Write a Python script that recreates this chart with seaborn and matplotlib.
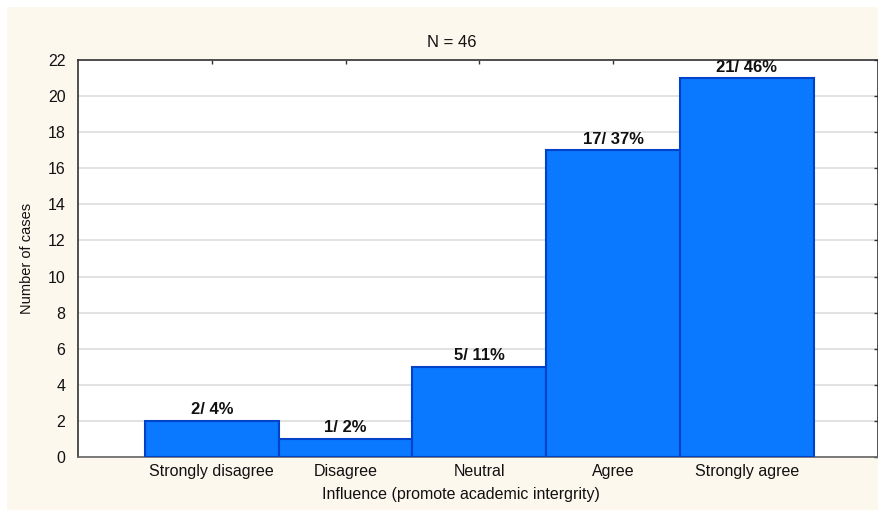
import pandas as pd
import matplotlib
matplotlib.use('Agg')
import matplotlib.pyplot as plt
import seaborn as sns
from matplotlib.patches import Rectangle

categories = ['Strongly disagree', 'Disagree', 'Neutral', 'Agree', 'Strongly agree']
counts = [2, 1, 5, 17, 21]
percents = [4, 2, 11, 37, 46]
total_n = 46

df = pd.DataFrame({'answer': categories, 'cases': counts})

sns.set_style('white')
plt.rcParams['font.family'] = ['Liberation Sans', 'DejaVu Sans']

fig = plt.figure(figsize=(8.79, 5.11), dpi=100)
fig.patch.set_facecolor('white')
# cream panel with a thin white margin, as in the original export
fig.patches.append(Rectangle((7 / 879, 1 / 511), 1 - 7 / 879, 1 - 8 / 511,
                             transform=fig.transFigure, facecolor='#FDF8EE',
                             edgecolor='none', zorder=-10))

ax = fig.add_axes([78 / 879, 1 - 457 / 511, 1 - 78 / 879 - 0.5 / 879, (457 - 60) / 511])
ax.set_zorder(2)
ax.set_facecolor('white')

sns.barplot(data=df, x='answer', y='cases', order=categories, width=1.0,
            color='#0A78FF', edgecolor='#0042C8', linewidth=1.5,
            saturation=1, ax=ax, zorder=3)

for i, (c, p) in enumerate(zip(counts, percents)):
    ax.annotate(f'{c}/ {p}%', (i, c), xytext=(0, 2.5), textcoords='offset points',
                ha='center', va='bottom', fontsize=12, fontweight='bold',
                color='#111111', zorder=4)

ax.set_xlim(-1, 4.985)
ax.set_ylim(0, 22)
ax.set_yticks(range(0, 23, 2))
ax.yaxis.grid(True, color='#E2E2E2', linewidth=1.4, zorder=0)
ax.xaxis.grid(False)

for s in ax.spines.values():
    s.set_visible(True)
    s.set_color('#333333')
    s.set_linewidth(1.2)
ax.spines['bottom'].set_color('#666666')

ax.tick_params(axis='both', direction='in', length=3, width=1, color='#333333',
               labelsize=11.5, labelcolor='#111111', top=True, right=True)
ax.tick_params(axis='x', pad=5)
ax.tick_params(axis='y', pad=9, left=False)

ax.text(0.467, 1.043, f'N = {total_n}', transform=ax.transAxes, ha='center',
        va='center', fontsize=12, color='#111111')
ax.set_xlabel('Influence (promote academic intergrity)', fontsize=11.5, color='#111111')
ax.xaxis.set_label_coords(0.478, -0.0955)
ax.xaxis.label.set_va('center')
ax.set_ylabel('Number of cases', fontsize=10.5, labelpad=10, color='#111111',
              family=['Liberation Sans Narrow', 'Liberation Sans', 'DejaVu Sans'])

fig.savefig('out.png', dpi=100, facecolor=fig.get_facecolor())
